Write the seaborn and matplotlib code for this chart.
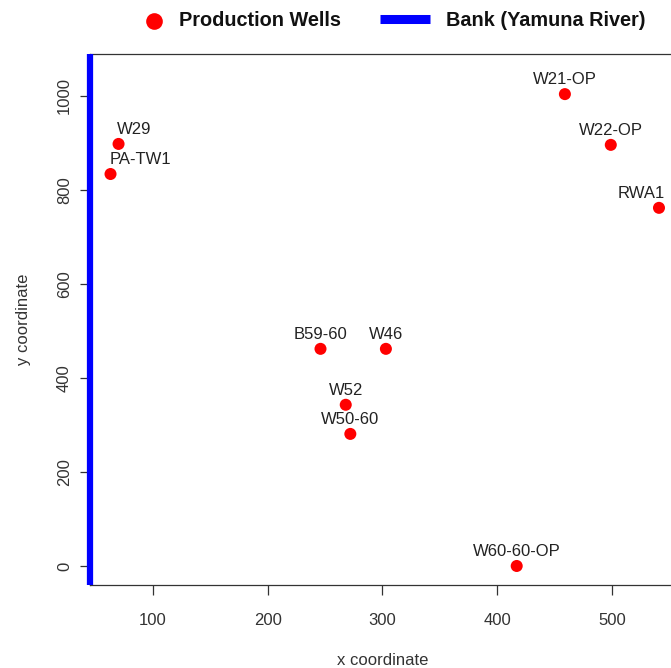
import matplotlib
matplotlib.use("Agg")
import matplotlib.pyplot as plt
import seaborn as sns
import pandas as pd
from matplotlib.lines import Line2D

wells = ["W29", "PA-TW1", "W21-OP", "W22-OP", "RWA1", "B59-60", "W46", "W52", "W50-60", "W60-60-OP"]
x_coord = [70, 63, 459, 499, 541, 246, 303, 268, 272, 417]
y_coord = [898, 834, 1004, 896, 762, 462, 462, 343, 281, 0]
bank_x = [45.1, 45.1]
bank_y = [-40.4, 1089.4]

label_align = {"W29": "left", "PA-TW1": "left", "RWA1": "right"}

sns.set_style("white")
plt.rcParams["font.family"] = ["Liberation Sans", "DejaVu Sans"]

df = pd.DataFrame({"well": wells, "x": x_coord, "y": y_coord})

fig = plt.figure(figsize=(6.71, 6.68), dpi=100)
ax = fig.add_axes([0.1341, 0.1243, 0.8733, 0.7949])

ax.plot(bank_x, bank_y, color="#0000FF", lw=4.5, solid_capstyle="butt",
        zorder=5, clip_on=False)
sns.scatterplot(data=df, x="x", y="y", ax=ax, color="#FF0000", s=75,
                edgecolor="none", zorder=4, legend=False)

for w, xv, yv in zip(wells, x_coord, y_coord):
    ha = label_align.get(w, "center")
    dx = -1 if ha == "left" else (4 if ha == "right" else 0)
    ax.annotate(w, (xv, yv), xytext=(dx, 5), textcoords="offset points",
                ha=ha, va="bottom", fontsize=12, color="#222222")

ax.set_xlim(45.1, 555.8)
ax.set_ylim(-40.4, 1089.4)
ax.set_xticks([100, 200, 300, 400, 500])
ax.set_yticks([0, 200, 400, 600, 800, 1000])
ax.tick_params(axis="both", which="major", bottom=True, left=True, direction="out",
               length=7, width=0.9, color="#333333", labelsize=12,
               labelcolor="#333333")
ax.tick_params(axis="x", pad=13)
ax.tick_params(axis="y", pad=6)
for lab in ax.get_yticklabels():
    lab.set_rotation(90)
    lab.set_va("center")
ax.set_xlabel("x coordinate", fontsize=12, color="#333333", labelpad=18)
ax.set_ylabel("y coordinate", fontsize=12, color="#333333", labelpad=19)
for side in ["top", "bottom", "left", "right"]:
    ax.spines[side].set_color("#333333")
    ax.spines[side].set_linewidth(0.9)

# legend above the plot
W, H = 671.0, 668.0
ly = 1 - 21 / H
fig.add_artist(Line2D([153.5 / W], [ly], marker="o", markersize=12, color="none",
                      markerfacecolor="#FF0000", markeredgecolor="none",
                      transform=fig.transFigure))
fig.text(179 / W, ly, "Production Wells", fontsize=14.3, fontweight="bold",
         va="center", ha="left", color="#111111")
fig.add_artist(Line2D([380 / W, 430 / W], [1 - 19 / H, 1 - 19 / H], lw=6.5,
                      color="#0000FF", solid_capstyle="butt",
                      transform=fig.transFigure))
fig.text(446 / W, ly, "Bank (Yamuna River)", fontsize=14.3, fontweight="bold",
         va="center", ha="left", color="#111111")

fig.savefig("out.png", dpi=100)
